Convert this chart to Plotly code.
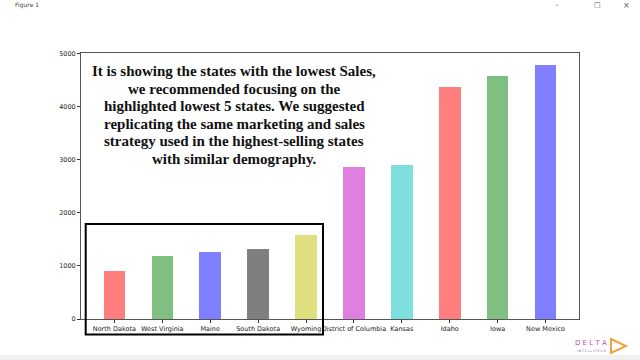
import plotly.graph_objects as go

states = ["North Dakota", "West Virginia", "Maine", "South Dakota", "Wyoming",
          "District of Columbia", "Kansas", "Idaho", "Iowa", "New Mexico"]
sales = [906, 1195, 1258, 1310, 1590, 2862, 2906, 4377, 4572, 4779]
bar_colors = ["#FF7F7F", "#7FBF7F", "#7F7FFF", "#7F7F7F", "#DFDF7F",
              "#DF7FDF", "#7FDFDF", "#FF7F7F", "#7FBF7F", "#7F7FFF"]
y_ticks = [0, 1000, 2000, 3000, 4000, 5000]
note_lines = [
    "It is showing the states with the lowest Sales,",
    "we recommended focusing on the",
    "highlighted lowest 5 states. We suggested",
    "replicating the same marketing and sales",
    "strategy used in the highest-selling states",
    "with similar demography.",
]

W, H = 640, 360
L, R, T, B = 81, 61, 53, 41
pw, ph = W - L - R, H - T - B


def px(x):
    return (x - L) / pw


def py(y):
    return (H - B - y) / ph


fig = go.Figure(go.Bar(
    x=list(range(len(states))), y=sales, width=0.45,
    marker=dict(color=bar_colors, line=dict(width=0)),
))

annotations = []
for i, line in enumerate(note_lines):
    annotations.append(dict(
        x=px(234), y=py(71 + i * 17.5), xref="paper", yref="paper",
        text="<b>%s</b>" % line, showarrow=False, xanchor="center", yanchor="middle",
        font=dict(family="Liberation Serif", size=15, color="#111"),
    ))

# window chrome
annotations += [
    dict(x=px(13), y=py(5), xref="paper", yref="paper", text="Figure 1", showarrow=False,
         xanchor="left", yanchor="middle", font=dict(family="DejaVu Sans", size=6, color="#444")),
    dict(x=px(557), y=py(5), xref="paper", yref="paper", text="–", showarrow=False,
         xanchor="center", yanchor="middle", font=dict(family="DejaVu Sans", size=7, color="#555")),
    dict(x=px(597), y=py(5), xref="paper", yref="paper", text="□", showarrow=False,
         xanchor="center", yanchor="middle", font=dict(family="DejaVu Sans", size=7, color="#555")),
    dict(x=px(626), y=py(5), xref="paper", yref="paper", text="×", showarrow=False,
         xanchor="center", yanchor="middle", font=dict(family="DejaVu Sans", size=8, color="#555")),
    dict(x=px(591), y=py(343), xref="paper", yref="paper", text="D E L T A", showarrow=False,
         xanchor="center", yanchor="middle",
         font=dict(family="DejaVu Sans", size=7, color="#C04FA8")),
    dict(x=px(591), y=py(351), xref="paper", yref="paper", text="I N T E L L I T E C H", showarrow=False,
         xanchor="center", yanchor="middle",
         font=dict(family="DejaVu Sans", size=3, color="#7A4A9A")),
]

shapes = [
    dict(type="rect", xref="paper", yref="paper", x0=px(85.7), x1=px(323), y0=py(334.5), y1=py(224),
         line=dict(color="black", width=2), fillcolor="rgba(0,0,0,0)", layer="above"),
    dict(type="rect", xref="paper", yref="paper", x0=px(0), x1=px(640), y0=py(360), y1=py(355),
         line=dict(width=0), fillcolor="#F0F0F0", layer="below"),
    dict(type="path", xref="paper", yref="paper",
         path="M %f %f L %f %f L %f %f Z" % (px(611), py(339), px(626), py(346), px(611), py(353)),
         line=dict(color="#F2A23C", width=2), fillcolor="rgba(0,0,0,0)"),
]

fig.update_layout(
    width=W, height=H, margin=dict(l=L, r=R, t=T, b=B),
    paper_bgcolor="white", plot_bgcolor="white", showlegend=False,
    annotations=annotations, shapes=shapes,
    xaxis=dict(range=[-0.6975, 9.6975], tickmode="array", tickvals=list(range(len(states))),
               ticktext=states, ticks="outside", ticklen=3, tickcolor="#333",
               showgrid=False, zeroline=False, showline=True, linecolor="#555", mirror=True,
               tickfont=dict(family="DejaVu Sans", size=6.5, color="#222"), tickangle=0),
    yaxis=dict(range=[0, 5013], tickmode="array", tickvals=y_ticks,
               ticks="outside", ticklen=3, tickcolor="#333",
               showgrid=False, zeroline=False, showline=True, linecolor="#555", mirror=True,
               tickfont=dict(family="DejaVu Sans", size=6.5, color="#222")),
    bargap=0,
)

fig.write_html("out.html", config={"displayModeBar": False})

with open("out.html", encoding="utf-8") as f:
    html = f.read()
html = html.replace("<head>", "<head><style>html,body{margin:0;padding:0;overflow:hidden;}</style>", 1)
with open("out.html", "w", encoding="utf-8") as f:
    f.write(html)
